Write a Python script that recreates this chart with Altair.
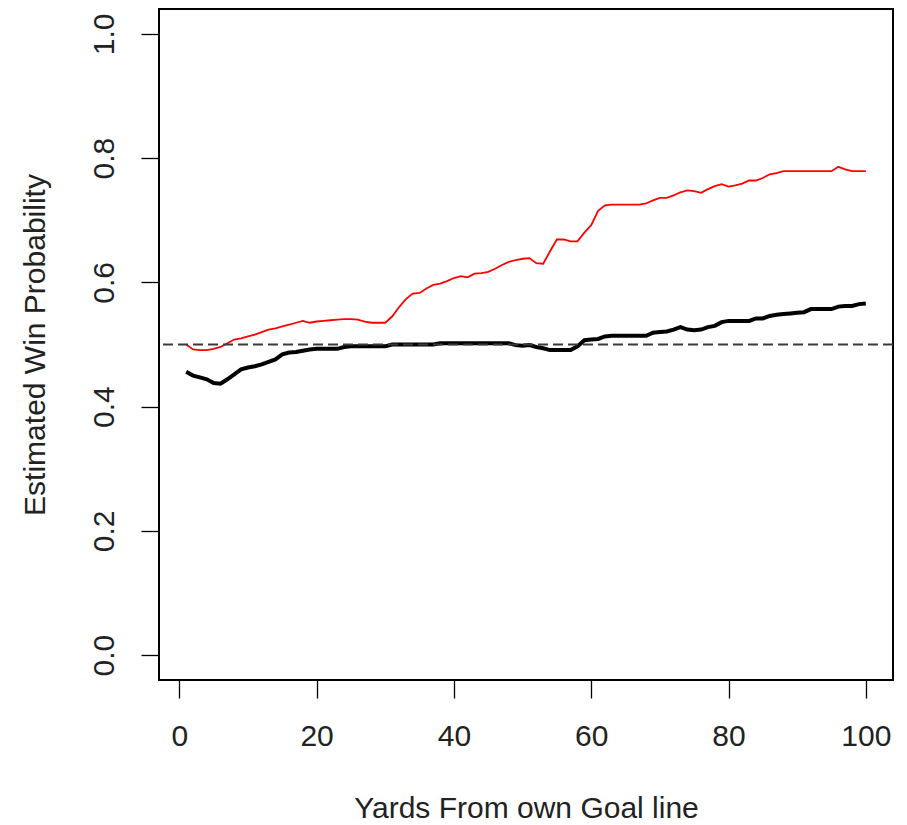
import altair as alt
import pandas as pd

yards = list(range(1, 101))

red_wp = [
    0.500, 0.492, 0.491, 0.491, 0.493, 0.496, 0.502, 0.508, 0.510, 0.513,
    0.516, 0.520, 0.524, 0.526, 0.529, 0.532, 0.535, 0.538, 0.535, 0.537,
    0.538, 0.539, 0.540, 0.541, 0.541, 0.540, 0.537, 0.535, 0.535, 0.535,
    0.545, 0.560, 0.573, 0.582, 0.583, 0.590, 0.596, 0.598, 0.602, 0.607,
    0.610, 0.608, 0.614, 0.615, 0.617, 0.622, 0.628, 0.633, 0.636, 0.638,
    0.639, 0.631, 0.630, 0.650, 0.669, 0.669, 0.666, 0.666, 0.680, 0.692,
    0.715, 0.724, 0.725, 0.725, 0.725, 0.725, 0.725, 0.727, 0.732, 0.736,
    0.736, 0.740, 0.745, 0.748, 0.747, 0.744, 0.750, 0.755, 0.758, 0.754,
    0.756, 0.759, 0.764, 0.764, 0.768, 0.774, 0.776, 0.779, 0.779, 0.779,
    0.779, 0.779, 0.779, 0.779, 0.779, 0.786, 0.782, 0.779, 0.779, 0.779,
]

black_wp = [
    0.456, 0.450, 0.447, 0.444, 0.438, 0.437, 0.444, 0.452, 0.460, 0.463,
    0.465, 0.468, 0.472, 0.476, 0.484, 0.487, 0.488, 0.490, 0.492, 0.493,
    0.493, 0.493, 0.493, 0.496, 0.497, 0.497, 0.497, 0.497, 0.497, 0.497,
    0.500, 0.500, 0.500, 0.500, 0.500, 0.500, 0.500, 0.502, 0.502, 0.502,
    0.502, 0.502, 0.502, 0.502, 0.502, 0.502, 0.502, 0.502, 0.499, 0.498,
    0.499, 0.496, 0.494, 0.491, 0.491, 0.491, 0.491, 0.497, 0.507, 0.508,
    0.509, 0.513, 0.514, 0.514, 0.514, 0.514, 0.514, 0.514, 0.519, 0.520,
    0.521, 0.524, 0.528, 0.524, 0.523, 0.524, 0.528, 0.530, 0.536, 0.538,
    0.538, 0.538, 0.538, 0.542, 0.542, 0.546, 0.548, 0.549, 0.550, 0.551,
    0.552, 0.557, 0.557, 0.557, 0.557, 0.561, 0.562, 0.562, 0.565, 0.566,
]

reference_level = [0.5]

x_ticks = [0, 20, 40, 60, 80, 100]
y_ticks = [0.0, 0.2, 0.4, 0.6, 0.8, 1.0]

df = pd.DataFrame({"yards": yards, "red": red_wp, "black": black_wp})
ref_df = pd.DataFrame({"level": reference_level})

FONT = "Liberation Sans"
TEXT = "#222222"

x_scale = alt.Scale(domain=[-2.96, 103.96], nice=False, zero=False)
y_scale = alt.Scale(domain=[-0.04, 1.04], nice=False, zero=False)

x_axis = alt.Axis(
    values=x_ticks, title="Yards From own Goal line", grid=False, domain=False,
    tickSize=18, tickWidth=1.3, tickColor="black",
    labelFontSize=30, labelFont=FONT, labelColor=TEXT, labelPadding=38,
    labelBaseline="middle", labelFlush=False, labelOverlap=False,
    titleFontSize=30, titleFont=FONT, titleFontWeight="normal", titleColor=TEXT,
    titleBaseline="middle", titleY=128,
)
y_axis = alt.Axis(
    values=y_ticks, format=".1f", title="Estimated Win Probability", grid=False,
    domain=False, tickSize=18, tickWidth=1.3, tickColor="black",
    labelFontSize=30, labelFont=FONT, labelColor=TEXT, labelPadding=37,
    labelAngle=270, labelAlign="center", labelBaseline="middle",
    labelFlush=False, labelOverlap=False,
    titleFontSize=30, titleFont=FONT, titleFontWeight="normal", titleColor=TEXT,
    titleBaseline="middle", titleAngle=270, titleX=-124,
)

base = alt.Chart(df)

red_line = base.mark_line(color="#ff0000", strokeWidth=1.8, interpolate="linear").encode(
    x=alt.X("yards:Q", scale=x_scale, axis=x_axis),
    y=alt.Y("red:Q", scale=y_scale, axis=y_axis),
)

black_line = base.mark_line(color="black", strokeWidth=4, interpolate="linear").encode(
    x=alt.X("yards:Q", scale=x_scale),
    y=alt.Y("black:Q", scale=y_scale),
)

ref_line = alt.Chart(ref_df).mark_rule(color="#3a3a3a", strokeWidth=2, strokeDash=[10, 5]).encode(
    y=alt.Y("level:Q", scale=y_scale),
)

chart = alt.layer(red_line, black_line, ref_line).properties(
    width=734,
    height=671,
    autosize=alt.AutoSizeParams(type="none"),
    padding={"left": 159, "top": 9, "right": 14, "bottom": 145},
    background="white",
).configure_view(stroke="black", strokeWidth=2)

chart.save("out.html", embed_options={"renderer": "svg", "actions": False})
